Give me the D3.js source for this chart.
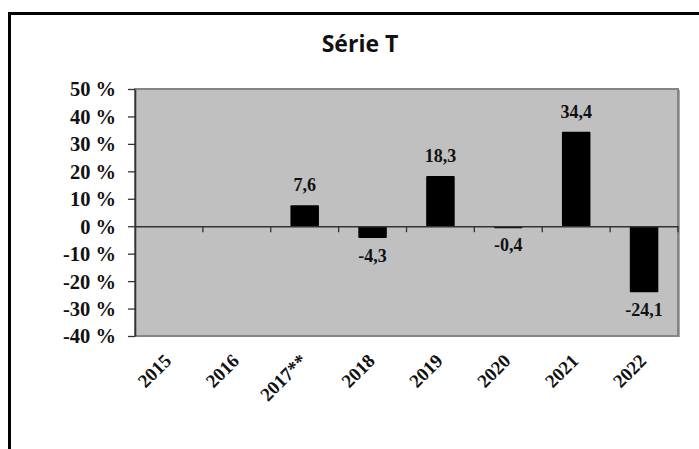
<!DOCTYPE html>
<html>
<head>
<meta charset="utf-8">
<script src="https://cdn.jsdelivr.net/npm/d3@7"></script>
<style>
  html, body { margin: 0; padding: 0; background: #fff; }
  svg { display: block; }
</style>
</head>
<body>
<svg id="chart" width="699" height="449"></svg>
<script>
// Annual change (%) by year
const years = ["2015", "2016", "2017**", "2018", "2019", "2020", "2021", "2022"];
const changes = [null, null, 7.6, -4.3, 18.3, -0.4, 34.4, -24.1];
const yTicks = [50, 40, 30, 20, 10, 0, -10, -20, -30, -40];
const title = "Série T";

const svg = d3.select("#chart");
const W = 699, H = 449;
const plot = { left: 135, right: 678, top: 89, bottom: 336 };
const serif = "'Liberation Serif', 'Times New Roman', serif";

// Outer frame: top and left edges only (chart area runs past the right edge)
svg.append("line").attr("x1", 8).attr("x2", W).attr("y1", 13.5).attr("y2", 13.5)
  .attr("stroke", "#000").attr("stroke-width", 3);
svg.append("line").attr("x1", 9.5).attr("x2", 9.5).attr("y1", 12).attr("y2", H)
  .attr("stroke", "#000").attr("stroke-width", 3);

svg.append("text")
  .attr("x", 360).attr("y", 52)
  .attr("text-anchor", "middle")
  .attr("font-family", "'Open Sans', 'Noto Sans', sans-serif")
  .attr("font-weight", "bold")
  .attr("font-size", 23)
  .attr("fill", "#111")
  .text(title);

const x = d3.scaleBand().domain(years).range([plot.left, plot.right]).paddingInner(0).paddingOuter(0);
const y = d3.scaleLinear().domain([-40, 50]).range([plot.bottom, plot.top]);

// Plot background with shaded edge
svg.append("rect")
  .attr("x", plot.left + 2).attr("y", plot.top + 1)
  .attr("width", plot.right - plot.left).attr("height", plot.bottom - plot.top)
  .attr("fill", "#a8a8a8");
svg.append("rect")
  .attr("x", plot.left).attr("y", plot.top)
  .attr("width", plot.right - plot.left).attr("height", plot.bottom - plot.top)
  .attr("fill", "#c0c0c0")
  .attr("stroke", "#858585").attr("stroke-width", 2);

// Bars
const barW = x.bandwidth() * 0.42;
const data = years.map((yr, i) => ({ yr, v: changes[i] })).filter(d => d.v !== null);
svg.append("g").selectAll("rect").data(data).join("rect")
  .attr("x", d => x(d.yr) + (x.bandwidth() - barW) / 2)
  .attr("y", d => y(Math.max(0, d.v)))
  .attr("width", barW)
  .attr("height", d => Math.max(Math.abs(y(d.v) - y(0)), 2))
  .attr("fill", "#000")
  .attr("rx", 1);

// Y axis
const yAxis = d3.axisLeft(y).tickValues(yTicks).tickSize(7).tickSizeOuter(0)
  .tickFormat(d => d + " %");
const gy = svg.append("g").attr("transform", `translate(${plot.left},0)`).call(yAxis);
gy.select(".domain").attr("stroke", "#333").attr("stroke-width", 1.6);
gy.selectAll(".tick line").attr("stroke", "#333").attr("stroke-width", 1.3);
gy.selectAll(".tick text")
  .attr("x", -19)
  .attr("dy", "0.34em")
  .attr("font-family", serif)
  .attr("font-weight", "bold")
  .attr("font-size", 20.5)
  .attr("fill", "#111");

// Category axis on the zero line
const xAxis = d3.axisBottom(x).tickSize(0).tickSizeOuter(0).tickFormat("");
const gx = svg.append("g").attr("transform", `translate(0,${y(0)})`).call(xAxis);
gx.select(".domain").attr("stroke", "#333").attr("stroke-width", 1.6);
const bounds = years.slice(1).map(yr => x(yr)).concat([plot.right]);
gx.selectAll("line.sep").data(bounds).join("line").attr("class", "sep")
  .attr("x1", d => d).attr("x2", d => d).attr("y1", 0).attr("y2", 6)
  .attr("stroke", "#333").attr("stroke-width", 1.3);

// Category labels, rotated
svg.append("g").selectAll("text").data(years).join("text")
  .attr("transform", d => `translate(${x(d) + x.bandwidth() / 2 + 3.5},${plot.bottom + 26}) rotate(-45)`)
  .attr("text-anchor", "end")
  .attr("font-family", serif)
  .attr("font-weight", "bold")
  .attr("font-size", 19)
  .attr("fill", "#111")
  .text(d => d);

// Value labels
svg.append("g").selectAll("text").data(data).join("text")
  .attr("x", d => x(d.yr) + x.bandwidth() / 2)
  .attr("y", d => d.v >= 0 ? y(d.v) - 14 : y(d.v) + 24)
  .attr("text-anchor", "middle")
  .attr("font-family", serif)
  .attr("font-weight", "bold")
  .attr("font-size", 18)
  .attr("fill", "#111")
  .text(d => d3.format(".1f")(d.v).replace(".", ",").replace("−", "-"));
</script>
</body>
</html>
